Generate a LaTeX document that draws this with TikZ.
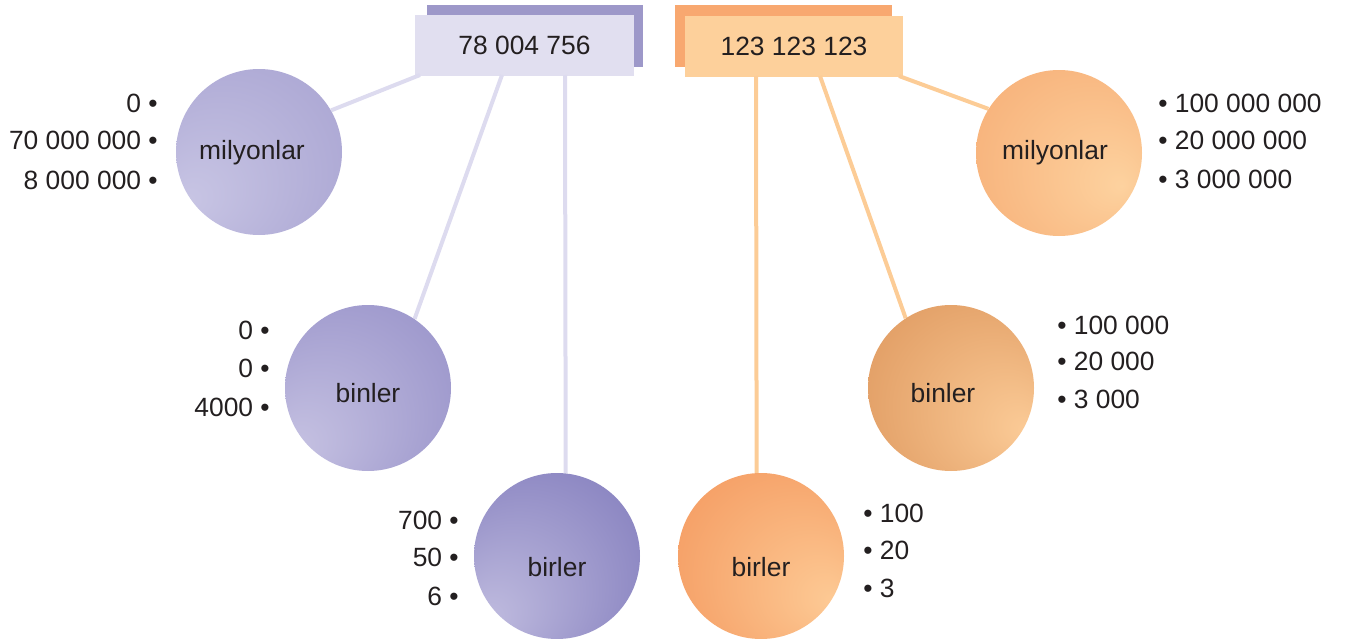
\documentclass[tikz,border=0pt]{standalone}
\usepackage{fontspec}
\setmainfont{Liberation Sans}
\usetikzlibrary{calc}

% palette
\definecolor{ink}{HTML}{231F20}
\definecolor{lavBack}{HTML}{9D98C9}
\definecolor{lavFront}{HTML}{E1DFF0}
\definecolor{lavLine}{HTML}{DDDBEF}
\definecolor{peachBack}{HTML}{F8A870}
\definecolor{peachFront}{HTML}{FDD09B}
\definecolor{peachLine}{HTML}{FCCC96}

\definecolor{lmL}{HTML}{C8C5E4}\definecolor{lmD}{HTML}{A29DCE}
\definecolor{lbL}{HTML}{C6C2E2}\definecolor{lbD}{HTML}{8E88C4}
\definecolor{lrL}{HTML}{C0BCDF}\definecolor{lrD}{HTML}{7670B6}
\definecolor{rmL}{HTML}{FDD29F}\definecolor{rmD}{HTML}{F5A56C}
\definecolor{rbL}{HTML}{FBCB97}\definecolor{rbD}{HTML}{D88D52}
\definecolor{rrL}{HTML}{FDCA95}\definecolor{rrD}{HTML}{F28E53}

% one off-centre radial shading per ball
\pgfdeclareradialshading{shLM}{\pgfpoint{-22bp}{-15bp}}{color(0bp)=(lmL); color(50bp)=(lmD)}
\pgfdeclareradialshading{shLB}{\pgfpoint{-23bp}{-19bp}}{color(0bp)=(lbL); color(50bp)=(lbD)}
\pgfdeclareradialshading{shLR}{\pgfpoint{-22bp}{-20bp}}{color(0bp)=(lrL); color(50bp)=(lrD)}
\pgfdeclareradialshading{shRM}{\pgfpoint{19bp}{-10bp}}{color(0bp)=(rmL); color(50bp)=(rmD)}
\pgfdeclareradialshading{shRB}{\pgfpoint{23bp}{-13bp}}{color(0bp)=(rbL); color(50bp)=(rbD)}
\pgfdeclareradialshading{shRR}{\pgfpoint{22bp}{-14bp}}{color(0bp)=(rrL); color(50bp)=(rrD)}

\begin{document}
\begin{tikzpicture}[x=0.75pt, y=-0.75pt,
  txt/.style={font=\fontsize{19.8}{23}\selectfont, text=ink, inner sep=0pt},
  ball/.style={circle, minimum size=124.5pt, inner sep=0pt},
  slab/.style={rectangle, inner sep=0pt, minimum height=46.5pt},
  card/.style={rectangle, inner sep=0pt, minimum height=45.75pt, txt},
  stickL/.style={draw=lavLine, line width=3pt},
  stickR/.style={draw=peachLine, line width=3pt},
  numL/.style={txt, anchor=east},
  numR/.style={txt, anchor=west}]

\useasboundingbox (0,0) rectangle (1347,639);

% title cards
\node[slab, fill=lavBack, minimum width=162pt] (bl) at (535,36) {};
\node[card, fill=lavFront, minimum width=164.25pt] (fl) at (524.5,45.5) {78 004 756};
\node[slab, fill=peachBack, minimum width=162.75pt] (br) at (783.5,36) {};
\node[card, fill=peachFront, minimum width=163.5pt] (fr) at (794,46.5) {123 123 123};

% anchor points on the lower edges of the cards
\coordinate (sl1) at (420,75);
\coordinate (sl2) at (502,75);
\coordinate (sl3) at (565,75);
\coordinate (sr1) at (756,76);
\coordinate (sr2) at (820,76);
\coordinate (sr3) at (899,76);

% balls
\node[ball] (lm) at (259,152) {};
\node[ball] (lb) at (368,388) {};
\node[ball] (lr) at (557,556) {};
\node[ball] (rr) at (761,556) {};
\node[ball] (rb) at (951,388) {};
\node[ball] (rm) at (1059,153) {};

% sticks
\draw[stickL] (sl1) -- (lm.30);
\draw[stickL] (sl2) -- (lb.56);
\draw[stickL] (sl3) -- (lr.84);
\draw[stickR] (sr1) -- (rr.93);
\draw[stickR] (sr2) -- (rb.123);
\draw[stickR] (sr3) -- (rm.148);

% shaded ball faces
\shade[shading=shLM] (lm.center) circle[radius=62.25pt];
\shade[shading=shLB] (lb.center) circle[radius=62.25pt];
\shade[shading=shLR] (lr.center) circle[radius=62.25pt];
\shade[shading=shRR] (rr.center) circle[radius=62.25pt];
\shade[shading=shRB] (rb.center) circle[radius=62.25pt];
\shade[shading=shRM] (rm.center) circle[radius=62.25pt];

% ball names
\node[txt] (tlm) at (252,153) {milyonlar};
\node[txt] (tlb) at (368,393) {binler};
\node[txt] (tlr) at (557,567) {birler};
\node[txt] (trr) at (761,567) {birler};
\node[txt] (trb) at (943,393) {binler};
\node[txt] (trm) at (1055,153) {milyonlar};

% place values, left number
\node[numL] (a1) at (158,103) {0 •};
\node[numL] (a2) at (158,140) {70 000 000 •};
\node[numL] (a3) at (158,180) {8 000 000 •};
\node[numL] (a4) at (270,330) {0 •};
\node[numL] (a5) at (270,368) {0 •};
\node[numL] (a6) at (270,407) {4000 •};
\node[numL] (a7) at (459,520) {700 •};
\node[numL] (a8) at (459,557) {50 •};
\node[numL] (a9) at (459,596) {6 •};

% place values, right number
\node[numR] (b1) at (863,513) {• 100};
\node[numR] (b2) at (863,550) {• 20};
\node[numR] (b3) at (863,588) {• 3};
\node[numR] (b4) at (1057,325) {• 100 000};
\node[numR] (b5) at (1057,361) {• 20 000};
\node[numR] (b6) at (1057,399) {• 3 000};
\node[numR] (b7) at (1158,103) {• 100 000 000};
\node[numR] (b8) at (1158,140) {• 20 000 000};
\node[numR] (b9) at (1158,179) {• 3 000 000};

\end{tikzpicture}
\end{document}
